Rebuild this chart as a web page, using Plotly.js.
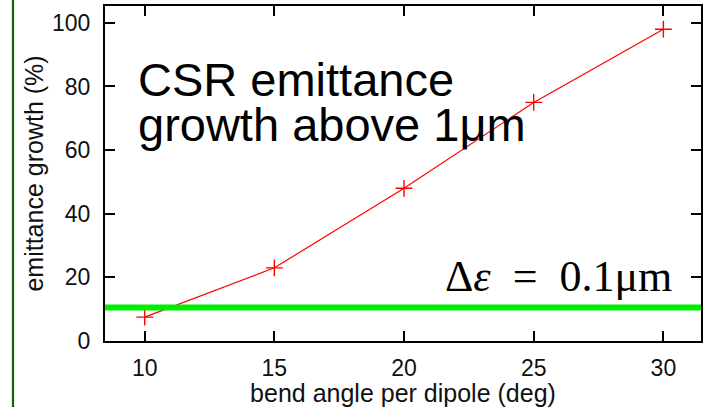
<!DOCTYPE html>
<html>
<head>
<meta charset="utf-8">
<script src="https://cdn.plot.ly/plotly-3.0.1.min.js"></script>
<style>
  html, body { margin: 0; padding: 0; background: #fff; }
  #chart { width: 703px; height: 407px; }
</style>
</head>
<body>
<div id="chart"></div>
<script>
// Bend angle per dipole (deg) and resulting CSR emittance growth (%)
const bendAngle = [10, 15, 20, 25, 30];
const emittanceGrowth = [7.5, 23, 48, 75, 98];

// Growth level corresponding to delta-epsilon = 0.1 um
const thresholdGrowth = 10.5;

const xTicks = [10, 15, 20, 25, 30];
const yTicks = [0, 20, 40, 60, 80, 100];

const sans = 'Liberation Sans, Arial, Helvetica, sans-serif';
const serif = 'Liberation Serif, Times New Roman, serif';

const trace = {
  x: bendAngle,
  y: emittanceGrowth,
  type: 'scatter',
  mode: 'lines+markers',
  line: { color: '#ff0000', width: 1.2 },
  marker: { symbol: 'cross-thin', size: 12, color: '#ff0000', line: { color: '#ff0000', width: 1.4 } },
  hoverinfo: 'skip',
  showlegend: false
};

const axisCommon = {
  showgrid: false,
  zeroline: false,
  showline: true,
  linecolor: '#000',
  linewidth: 2,
  mirror: 'ticks',
  ticks: 'inside',
  ticklen: 10,
  tickwidth: 2,
  tickcolor: '#000',
  tickfont: { family: sans, size: 23, color: '#111' }
};

const layout = {
  width: 703,
  height: 407,
  margin: { l: 105, r: 2, t: 6, b: 66 },
  paper_bgcolor: '#fff',
  plot_bgcolor: '#fff',
  xaxis: Object.assign({}, axisCommon, {
    range: [8.47, 31.45],
    tickvals: xTicks,
    ticktext: xTicks.map(String),
    ticklabelstandoff: 5,
    title: { text: 'bend angle per dipole (deg)', font: { family: sans, size: 25, color: '#111' }, standoff: 2 }
  }),
  yaxis: Object.assign({}, axisCommon, {
    range: [0, 105.3],
    tickvals: yTicks,
    ticktext: yTicks.map(String),
    ticklabelstandoff: 8,
    title: { text: 'emittance growth (%)', font: { family: sans, size: 25, color: '#111' }, standoff: 1 }
  }),
  shapes: [
    {
      // threshold band
      type: 'line', xref: 'paper', yref: 'y',
      x0: 0, x1: 1, y0: thresholdGrowth, y1: thresholdGrowth,
      line: { color: '#00ee00', width: 6 },
      layer: 'above'
    },
    {
      // slide border on the left
      type: 'line', xref: 'paper', yref: 'paper',
      x0: -0.1544, x1: -0.1544, y0: -0.2, y1: 1.03,
      line: { color: '#0b640b', width: 2.2 }
    }
  ],
  annotations: [
    {
      text: 'CSR emittance', xref: 'paper', yref: 'paper',
      x: 0.052, y: 0.782, xanchor: 'left', yanchor: 'middle',
      showarrow: false, font: { family: sans, size: 47, color: '#000' }
    },
    {
      text: 'growth above 1μm', xref: 'paper', yref: 'paper',
      x: 0.052, y: 0.646, xanchor: 'left', yanchor: 'middle',
      showarrow: false, font: { family: sans, size: 47, color: '#000' }
    },
    {
      text: 'Δ<i>ε</i>\u2002=\u20020.1μm', xref: 'paper', yref: 'paper',
      x: 0.567, y: 0.193, xanchor: 'left', yanchor: 'middle',
      showarrow: false, font: { family: serif, size: 44, color: '#000' }
    }
  ]
};

Plotly.newPlot('chart', [trace], layout, { staticPlot: true, displayModeBar: false });
</script>
</body>
</html>
